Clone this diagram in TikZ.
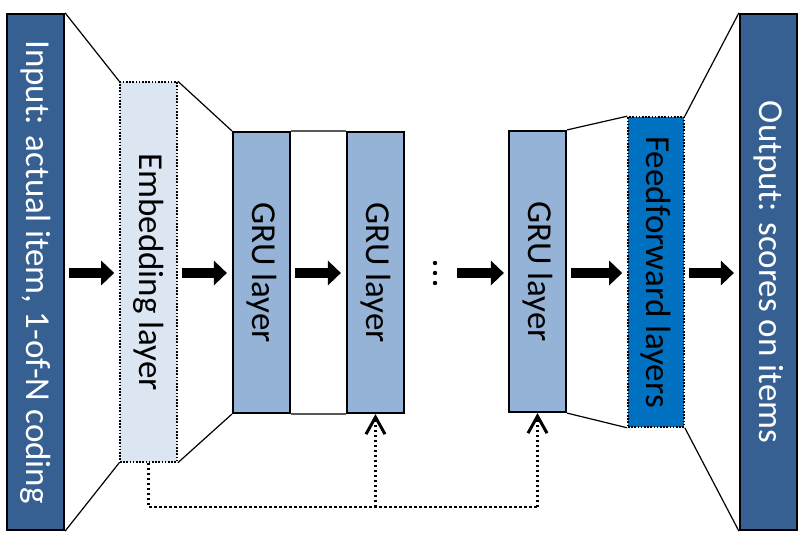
\documentclass[tikz,border=0pt]{standalone}
\usepackage{fontspec}
\setmainfont{Carlito}
\usetikzlibrary{arrows.meta}
\definecolor{darkb}{RGB}{55,96,146}
\definecolor{grub}{RGB}{149,179,215}
\definecolor{embb}{RGB}{220,230,242}
\definecolor{ffb}{RGB}{0,112,192}
\tikzset{
  box/.style={rectangle, draw=black, line width=2.2bp, inner sep=0pt, minimum width=57bp},
  dotbox/.style={rectangle, draw=black, line width=1.6bp, dash pattern=on 1.6bp off 1.6bp, inner sep=0pt, minimum width=57bp},
  lbl/.style={rotate=-90, font=\fontsize{35bp}{40bp}\selectfont},
  edge/.style={line width=1.2bp, black},
  gedge/.style={line width=1.5bp, black!65},
  blk/.style={line width=10bp, -{Triangle[length=13bp,width=24bp]}},
  fb/.style={line width=2.5bp, dash pattern=on 2.5bp off 2.5bp},
  fbtip/.style={-{Straight Barb[length=17bp,width=19bp,line width=3bp]}}
}
\begin{document}
\begin{tikzpicture}[x=1bp,y=-1bp]
\useasboundingbox (0,0) rectangle (803,542);
% boxes
\node[box, fill=darkb, minimum height=516bp] (in) at (35.5,272) {};
\node[dotbox, fill=embb, minimum height=380bp] (emb) at (148.5,272) {};
\node[box, fill=grub, minimum height=281bp] (g1) at (261.5,272.5) {};
\node[box, fill=grub, minimum height=281bp] (g2) at (375.5,272.5) {};
\node[box, fill=grub, minimum height=281bp] (g3) at (537.5,271.5) {};
\node[dotbox, fill=ffb, minimum width=56bp, minimum height=310bp] (ff) at (656,272) {};
\node[box, fill=darkb, minimum height=516bp] (out) at (768.5,272) {};
% labels
\node[lbl, text=white] (inT) at (in) {Input: actual item, 1-of-N coding};
\node[lbl] (embT) at (emb) {Embedding layer};
\node[lbl] (g1T) at (g1) {GRU layer};
\node[lbl] (g2T) at (g2) {GRU layer};
\node[lbl] (g3T) at (g3) {GRU layer};
\node[lbl] (ffT) at (ff) {Feedforward layers};
\node[lbl, text=white] (outT) at (out) {Output: scores on items};
% connecting corner lines
\draw[edge] (in.north east) -- (emb.north west);
\draw[edge] (in.south east) -- (emb.south west);
\draw[edge] (emb.north east) -- (g1.north west);
\draw[edge] (emb.south east) -- (g1.south west);
\draw[gedge] (g1.north east) -- (g2.north west);
\draw[gedge] (g1.south east) -- (g2.south west);
\draw[edge] (g3.north east) -- (ff.north west);
\draw[edge] (g3.south east) -- (ff.south west);
\draw[edge] (ff.north east) -- (out.north west);
\draw[edge] (ff.south east) -- (out.south west);
% dots
\node[inner sep=0pt, minimum size=4bp] (dots) at (435,273) {};
\fill (435,263) circle (2.2bp) (435,273) circle (2.2bp) (435,283) circle (2.2bp);
% block arrows
\draw[blk, shorten <=4bp, shorten >=5bp] (in.east |- 0,273) -- (emb.west |- 0,273);
\draw[blk, shorten <=4bp, shorten >=5bp] (emb.east |- 0,273) -- (g1.west |- 0,273);
\draw[blk, shorten <=4bp, shorten >=5bp] (g1.east |- 0,273) -- (g2.west |- 0,273);
\draw[blk, shorten <=20bp, shorten >=4bp] (dots) -- (g3.west |- dots);
\draw[blk, shorten <=4bp, shorten >=5bp] (g3.east |- 0,273) -- (ff.west |- 0,273);
\draw[blk, shorten <=4bp, shorten >=5bp] (ff.east |- 0,273) -- (out.west |- 0,273);
% feedback
\coordinate (fbl) at (148.5,507);
\draw[fb] (emb.south) -- (fbl) -- (g3.south |- fbl);
\draw[fb, fbtip] (g3.south |- fbl) -- (g3.south);
\draw[fb, fbtip] (g2.south |- fbl) -- (g2.south);
\end{tikzpicture}
\end{document}
